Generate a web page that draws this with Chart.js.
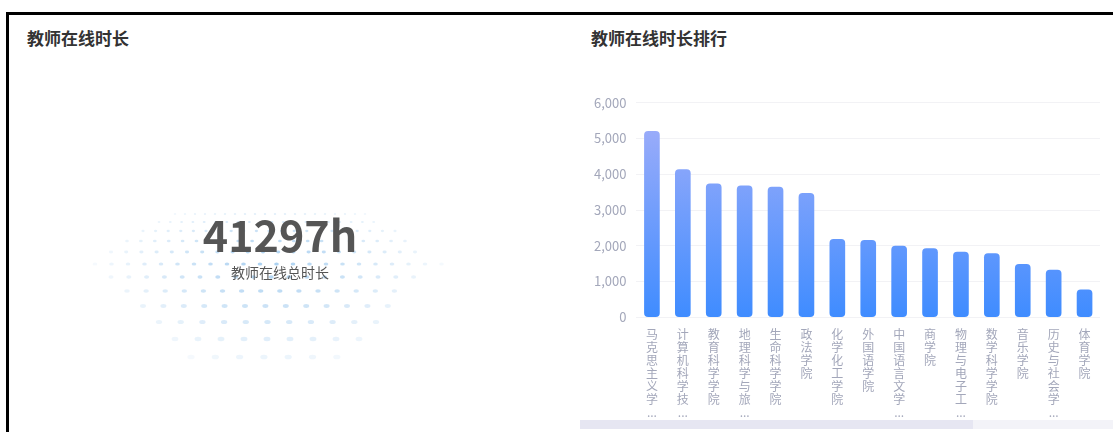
<!DOCTYPE html>
<html>
<head>
<meta charset="utf-8">
<script src="https://cdn.jsdelivr.net/npm/chart.js@4.4.0/dist/chart.umd.min.js"></script>
<style>
  html, body { margin: 0; padding: 0; background: #fff; }
  body { width: 1113px; height: 432px; position: relative; overflow: hidden; font-family: "Noto Sans CJK SC", sans-serif; }
  .frame { position: absolute; left: 6px; top: 12px; width: 1200px; height: 500px; border-left: 3px solid #000; border-top: 3px solid #000; }
  .title { position: absolute; font-size: 17px; font-weight: bold; color: #333; top: 25px; }
  #dots { position: absolute; left: 90px; top: 200px; }
  .total { position: absolute; left: 130px; width: 300px; text-align: center; }
  #totalNum { top: 205px; font-size: 43px; font-weight: bold; color: #555; line-height: 56px; }
  #totalLabel { top: 262px; font-size: 14px; color: #555; }
  #chartBox { position: absolute; left: 580px; top: 85px; width: 533px; height: 337px; }
  .zoomTrack { position: absolute; left: 580px; top: 420px; width: 533px; height: 9px; background: #f3f3f8; }
  .zoomFill { position: absolute; left: 580px; top: 420px; width: 393px; height: 9px; background: #e6e6f2; }
</style>
</head>
<body>
<div class="frame"></div>
<div class="title" style="left:27px">教师在线时长</div>
<div class="title" style="left:591px">教师在线时长排行</div>
<canvas id="dots" width="360" height="170"></canvas>
<div class="total" id="totalNum"></div>
<div class="total" id="totalLabel">教师在线总时长</div>
<div class="zoomTrack"></div>
<div class="zoomFill"></div>
<div id="chartBox"><canvas id="rankChart"></canvas></div>
<script>
const totalHours = 41297;

const colleges = ['马克思主义学院', '计算机科学技术学院', '教育科学学院', '地理科学与旅游学院', '生命科学学院', '政法学院',
  '化学化工学院', '外国语学院', '中国语言文学学院', '商学院', '物理与电子工程学院', '数学科学学院', '音乐学院', '历史与社会学院', '体育学院'];
const onlineHours = [5200, 4130, 3735, 3680, 3640, 3465, 2180, 2150, 1990, 1925, 1825, 1780, 1480, 1320, 765];
const yTicks = [0, 1000, 2000, 3000, 4000, 5000, 6000];

document.getElementById('totalNum').textContent = totalHours + 'h';

// decorative dotted floor behind the total
const dctx = document.getElementById('dots').getContext('2d');
for (let r = 0; r < 12; r++) {
  const y = 14 + r * r * 0.5 + r * 7.5;
  const half = 175 - Math.abs(r - 5) * 16;
  const step = 10 + r * 1.3;
  for (let x = -half; x <= half; x += step) {
    const d = Math.sqrt((x / 180) ** 2 + ((r - 5) / 7) ** 2);
    const a = Math.max(0, 0.6 - d * 0.55);
    dctx.fillStyle = 'rgba(110,175,230,' + a.toFixed(2) + ')';
    dctx.beginPath();
    dctx.ellipse(180 + x, y, 1.2 + r * 0.22, 0.9 + r * 0.13, 0, 0, Math.PI * 2);
    dctx.fill();
  }
}

const ctx = document.getElementById('rankChart');

function barGradient(context) {
  const area = context.chart.chartArea;
  if (!area) return '#5b95fb';
  const g = context.chart.ctx.createLinearGradient(0, area.top, 0, area.bottom);
  g.addColorStop(0, '#a6b0f9');
  g.addColorStop(1, '#3f8cff');
  return g;
}

function shortLabel(name) {
  return name.length > 6 ? name.slice(0, 6).split('').concat('...') : name.split('');
}

new Chart(ctx, {
  type: 'bar',
  data: {
    labels: colleges,
    datasets: [{
      label: '在线时长',
      data: onlineHours,
      backgroundColor: barGradient,
      borderRadius: 4,
      borderSkipped: false,
      barThickness: 15
    }]
  },
  options: {
    responsive: true,
    maintainAspectRatio: false,
    animation: false,
    layout: { padding: { left: 4, right: 13, top: 8, bottom: 0 } },
    plugins: { legend: { display: false }, tooltip: { enabled: false } },
    scales: {
      x: {
        grid: { display: false },
        border: { display: false },
        ticks: {
          color: '#a3a7ba',
          font: { family: 'Noto Sans CJK SC', size: 12, lineHeight: 1.08 },
          maxRotation: 0,
          autoSkip: false,
          padding: 3,
          callback: function (v, i) { return shortLabel(colleges[i]); }
        }
      },
      y: {
        min: 0,
        max: 6000,
        afterBuildTicks: function (axis) { axis.ticks = yTicks.map(v => ({ value: v })); },
        grid: { color: '#f2f2f5', drawTicks: false },
        border: { display: false },
        ticks: {
          color: '#a3a7ba',
          font: { family: 'Noto Sans CJK SC', size: 13 },
          padding: 10,
          callback: v => v.toLocaleString('en-US')
        }
      }
    }
  }
});
</script>
</body>
</html>
